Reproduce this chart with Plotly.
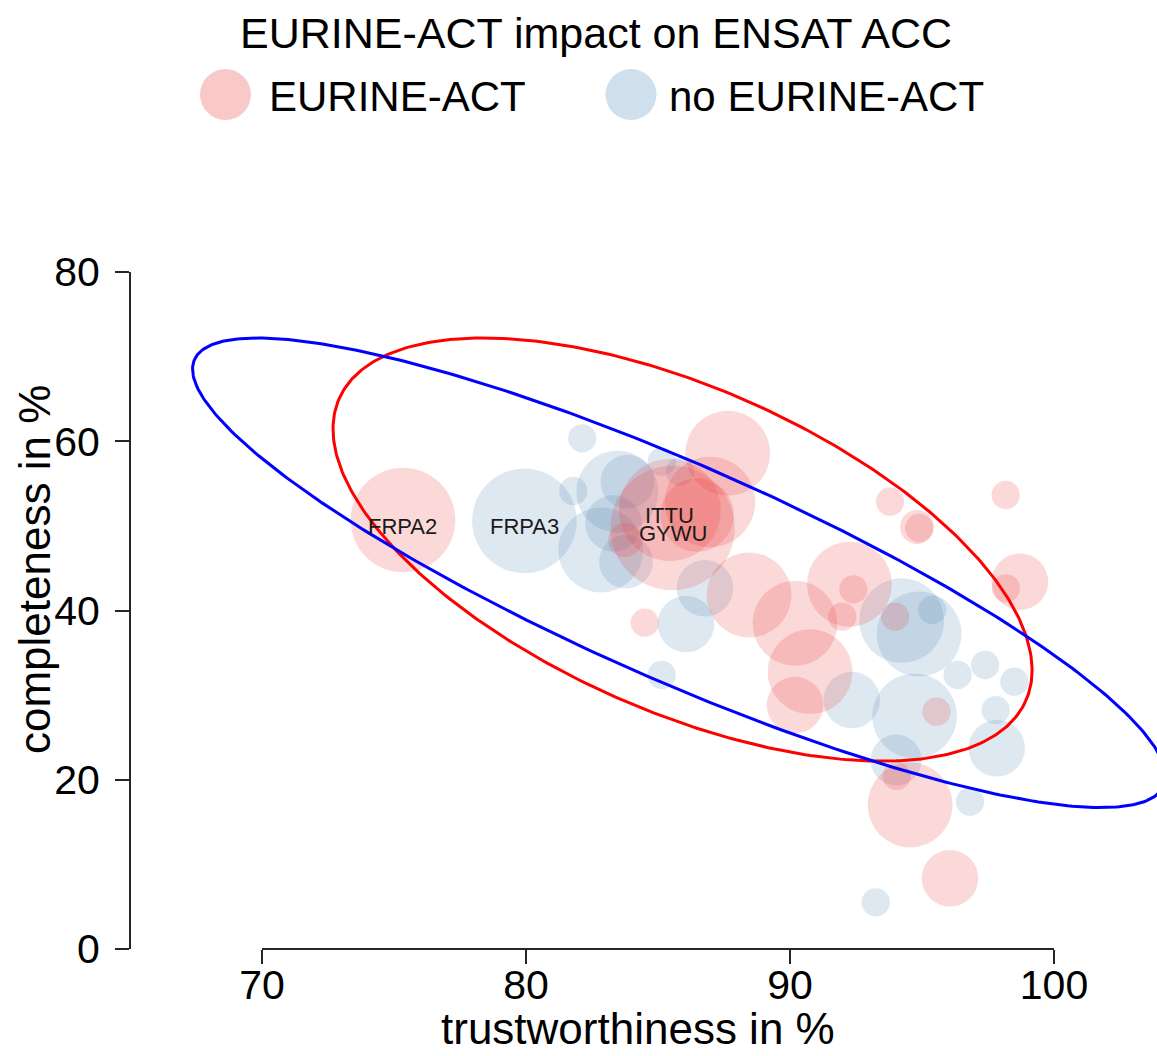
import numpy as np
import plotly.graph_objects as go

# ---- bubble data: trustworthiness (x, %), completeness (y, %), bubble weight ----
red_x = [75.34, 87.64, 85.55, 85.45, 86.97, 86.48, 83.75, 84.50, 88.45, 90.19,
         90.76, 90.19, 92.25, 92.40, 91.98, 93.79, 94.81, 94.89, 98.17, 98.71,
         98.18, 93.98, 95.55, 94.55, 94.04, 96.06]
red_y = [50.69, 58.58, 49.75, 51.88, 52.82, 51.29, 48.30, 38.56, 41.83, 38.49,
         32.77, 28.83, 43.10, 42.50, 39.27, 52.86, 49.87, 49.75, 53.65, 43.40,
         42.62, 39.27, 28.04, 17.02, 20.44, 8.35]
red_n = [342, 225, 484, 324, 256, 169, 36, 25, 225, 225,
         225, 100, 225, 25, 25, 25, 36, 25, 25, 100,
         25, 25, 25, 225, 25, 100]

blue_x = [79.94, 82.13, 81.79, 83.84, 83.46, 83.31, 82.83, 83.79, 85.14, 85.83,
          86.78, 86.06, 85.14, 92.34, 94.23, 94.89, 95.39, 96.35, 97.39, 98.50,
          97.79, 94.72, 97.83, 94.02, 96.82, 93.25]
blue_y = [50.60, 60.34, 54.12, 55.22, 54.04, 50.30, 47.15, 45.77, 57.58, 56.40,
          42.62, 38.40, 32.38, 29.42, 38.80, 37.22, 40.06, 32.38, 33.56, 31.59,
          28.24, 27.53, 23.72, 22.33, 17.41, 5.52]
blue_n = [342, 25, 25, 90, 210, 100, 225, 90, 25, 25,
          100, 100, 25, 100, 225, 225, 25, 25, 25, 25,
          25, 225, 100, 81, 25, 25]

# labelled centres: (name, group, index into that group's arrays)
labels = [("FRPA2", "red", 0), ("FRPA3", "blue", 0),
          ("ITTU", "red", 3), ("GYWU", "red", 2)]

# ellipse parameters: centre, semi-extents along x and y, correlation
red_ell = dict(cx=85.93, cy=47.2, rx=13.24, ry=25.0, rho=-0.57)
blue_ell = dict(cx=85.8, cy=44.46, rx=18.43, ry=27.74, rho=-0.867)

x_ticks = [70, 80, 90, 100]
y_ticks = [0, 20, 40, 60, 80]

RED_FILL = "rgba(235,60,60,0.28)"
BLUE_FILL = "rgba(70,130,180,0.26)"
AXIS_COL = "#262626"
FONT = "Liberation Sans, Arial, sans-serif"

W, H = 1157, 1056
ML, MR, MT, MB = 131, 0, 272, 107
PW, PH = W - ML - MR, H - MT - MB


def px_x(px):
    return (px - ML) / PW


def px_y(py):
    return (H - MB - py) / PH


def ellipse(p, n=400):
    t = np.linspace(0, 2 * np.pi, n)
    x = p["cx"] + p["rx"] * np.cos(t)
    y = p["cy"] + p["ry"] * (p["rho"] * np.cos(t) - np.sqrt(1 - p["rho"] ** 2) * np.sin(t))
    return x, y


SIZEREF = 1 / 16.0

fig = go.Figure()
fig.add_trace(go.Scatter(
    x=blue_x, y=blue_y, mode="markers", name="no EURINE-ACT",
    marker=dict(size=blue_n, sizemode="area", sizeref=SIZEREF,
                color=BLUE_FILL, line=dict(width=0)),
    showlegend=False, hoverinfo="skip"))
fig.add_trace(go.Scatter(
    x=red_x, y=red_y, mode="markers", name="EURINE-ACT",
    marker=dict(size=red_n, sizemode="area", sizeref=SIZEREF,
                color=RED_FILL, line=dict(width=0)),
    showlegend=False, hoverinfo="skip"))

for p, col in ((red_ell, "#ff0000"), (blue_ell, "#0000ff")):
    ex, ey = ellipse(p)
    fig.add_trace(go.Scatter(x=ex, y=ey, mode="lines", line=dict(color=col, width=3),
                             showlegend=False, hoverinfo="skip"))

annotations = []
for name, grp, i in labels:
    xs, ys = (red_x, red_y) if grp == "red" else (blue_x, blue_y)
    annotations.append(dict(x=xs[i], y=ys[i], xref="x", yref="y", text=name,
                            showarrow=False, yshift=-6,
                            font=dict(family=FONT, size=22, color="#1a1a1a")))

# title and legend row
annotations.append(dict(x=px_x(596), y=px_y(33), xref="paper", yref="paper",
                        text="EURINE-ACT impact on ENSAT ACC", showarrow=False,
                        xanchor="center", yanchor="middle",
                        font=dict(family=FONT, size=43, color="black")))
annotations.append(dict(x=px_x(267), y=px_y(96), xref="paper", yref="paper",
                        text="EURINE-ACT", showarrow=False, xanchor="left", yanchor="middle",
                        font=dict(family=FONT, size=42, color="black")))
annotations.append(dict(x=px_x(667), y=px_y(96), xref="paper", yref="paper",
                        text="no EURINE-ACT", showarrow=False, xanchor="left", yanchor="middle",
                        font=dict(family=FONT, size=42, color="black")))
# axis titles
annotations.append(dict(x=px_x(638), y=px_y(1028), xref="paper", yref="paper",
                        text="trustworthiness in %", showarrow=False,
                        xanchor="center", yanchor="middle",
                        font=dict(family=FONT, size=44, color="black")))
annotations.append(dict(x=px_x(34), y=px_y(570), xref="paper", yref="paper",
                        text="completeness in %", showarrow=False, textangle=-90,
                        xanchor="center", yanchor="middle",
                        font=dict(family=FONT, size=44, color="black")))

shapes = [
    # x axis line spanning the tick range
    dict(type="line", xref="x", yref="paper", x0=x_ticks[0], x1=x_ticks[-1], y0=0, y1=0,
         line=dict(color=AXIS_COL, width=2)),
    # legend keys
    dict(type="circle", xref="paper", yref="paper", xsizemode="pixel", ysizemode="pixel",
         xanchor=px_x(225.5), yanchor=px_y(94.5), x0=-25.5, x1=25.5, y0=-25.5, y1=25.5,
         fillcolor=RED_FILL, line=dict(width=0)),
    dict(type="circle", xref="paper", yref="paper", xsizemode="pixel", ysizemode="pixel",
         xanchor=px_x(631), yanchor=px_y(94.5), x0=-25.5, x1=25.5, y0=-25.5, y1=25.5,
         fillcolor=BLUE_FILL, line=dict(width=0)),
]

fig.update_layout(
    width=W, height=H, margin=dict(l=ML, r=MR, t=MT, b=MB, autoexpand=False),
    paper_bgcolor="white", plot_bgcolor="white",
    showlegend=False, annotations=annotations, shapes=shapes,
    font=dict(family=FONT, color="black"),
    xaxis=dict(range=[70 - (262 - ML) / 26.4, 70 + (W - MR - 262) / 26.4],
               tickvals=x_ticks, ticks="outside", ticklen=14, tickwidth=2, tickcolor=AXIS_COL,
               showline=False, showgrid=False, zeroline=False, ticklabelstandoff=-14,
               tickfont=dict(family=FONT, size=41, color="black")),
    yaxis=dict(range=[0, 80], tickvals=y_ticks, ticks="outside", ticklen=14, tickwidth=2,
               tickcolor=AXIS_COL, showline=True, linecolor=AXIS_COL, linewidth=2,
               showgrid=False, zeroline=False, ticklabelstandoff=7,
               tickfont=dict(family=FONT, size=41, color="black")),
)

fig.write_html("out.html")
